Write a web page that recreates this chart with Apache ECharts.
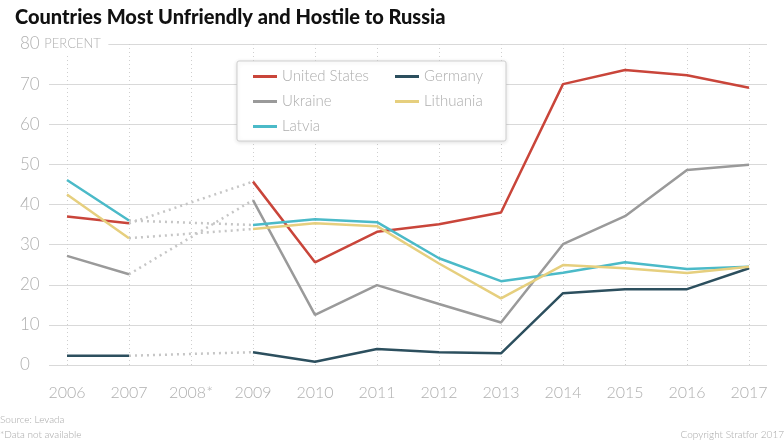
<!DOCTYPE html>
<html><head><meta charset="utf-8">
<script src="https://cdn.jsdelivr.net/npm/echarts@6/dist/echarts.min.js"></script>
<style>html,body{margin:0;padding:0;background:#fff}#c{width:784px;height:443px}</style>
</head><body><div id="c"></div>
<script>
const years = [2006,2007,2008,2009,2010,2011,2012,2013,2014,2015,2016,2017];
const yearLabels = ['2006','2007','2008*','2009','2010','2011','2012','2013','2014','2015','2016','2017'];
const unitedStates = [37.0,35.3,null,45.7,25.6,33.2,35.1,38.0,70.0,73.5,72.2,69.1];
const ukraine      = [27.2,22.6,null,41.1,12.5,19.9,15.2,10.6,30.1,37.1,48.6,49.9];
const latvia       = [46.1,36.0,null,34.9,36.3,35.6,26.6,20.9,23.0,25.6,23.9,24.5];
const germany      = [2.3,2.3,null,3.2,0.8,4.0,3.2,2.9,17.9,18.9,18.9,24.1];
const lithuania    = [42.5,31.6,null,33.9,35.3,34.6,25.3,16.6,24.9,24.1,22.9,24.5];
const yTicks = [0,10,20,30,40,50,60,70,80];

const countries = [
  {name:'United States', data:unitedStates, color:'#c9453a'},
  {name:'Ukraine', data:ukraine, color:'#9a9a9a'},
  {name:'Latvia', data:latvia, color:'#4bbac8'},
  {name:'Germany', data:germany, color:'#2c4f5e'},
  {name:'Lithuania', data:lithuania, color:'#e6cf7e'}
];
const font = 'Lato, "Open Sans", sans-serif';
const series = [];
// dotted connectors across missing 2008
countries.forEach(c => {
  const i7 = years.indexOf(2007), i9 = years.indexOf(2009);
  series.push({
    name: c.name + ' (n/a)', type:'line', symbol:'none', silent:true, z:1,
    lineStyle:{color:'#c6c6c6', width:2.5, type:[2,4]},
    data:[[years[i7], c.data[i7]],[years[i9], c.data[i9]]]
  });
});
countries.forEach(c => {
  series.push({
    name:c.name, type:'line', symbol:'none', connectNulls:false, z:3,
    color:c.color, lineStyle:{color:c.color, width:2.5},
    emphasis:{disabled:true},
    data: years.map((y,i)=>[y, c.data[i]])
  });
});

const chart = echarts.init(document.getElementById('c'));
chart.setOption({
  animation:false,
  backgroundColor:'#fff',
  title:{text:'Countries Most Unfriendly and Hostile to Russia', left:10, top:3,
    textStyle:{fontFamily:font, fontWeight:900, fontSize:20, color:'#111'}},
  grid:{left:49, right:17, top:44, bottom:78},
  legend:{
    data:[{name:'United States'},{name:'Germany', textStyle:{width:66}},{name:'Ukraine'},{name:'Lithuania', textStyle:{width:66}},{name:'Latvia'}],
    left:237, top:61, width:245, orient:'horizontal',
    icon:'rect', itemWidth:24, itemHeight:3, itemGap:10,
    backgroundColor:'#fff', borderColor:'#cfcfcf', borderWidth:1, borderRadius:2,
    shadowColor:'rgba(0,0,0,0.12)', shadowBlur:4, shadowOffsetY:1,
    padding:[8,16,7,16],
    textStyle:{fontFamily:font, fontWeight:300, fontSize:15, color:'#adadad', width:103, lineHeight:15}
  },
  xAxis:{
    type:'value', min:2005.71, max:2017.29,
    axisLine:{show:false},
    axisTick:{show:false, customValues:years},
    axisLabel:{customValues:years, margin:20, fontFamily:font, fontWeight:300, fontSize:16, color:'#b0b0b0',
      formatter:v => yearLabels[years.indexOf(v)]},
    splitLine:{show:true, lineStyle:{color:'#cfcfcf', type:[1,3], width:1}}
  },
  yAxis:{
    type:'value', min:0, max:80, interval:10,
    axisLine:{show:false}, axisTick:{show:false},
    axisLabel:{align:'left', margin:29, fontFamily:font, fontWeight:300, fontSize:17, color:'#b0b0b0',
      formatter:v => v===80 ? '80{p| PERCENT }' : String(v),
      rich:{p:{fontFamily:font, fontWeight:300, fontSize:13, color:'#b0b0b0', backgroundColor:'#fff', padding:[3,4,3,1]}}},
    splitLine:{lineStyle:{color:'#d9d9d9', width:1}}
  },
  graphic:[
    {type:'text', left:0, top:415, style:{text:'Source: Levada', fontFamily:font, fontWeight:300, fontSize:10, fill:'#a8a8a8'}},
    {type:'text', left:0, top:430, style:{text:'*Data not available', fontFamily:font, fontWeight:300, fontSize:10, fill:'#a8a8a8'}},
    {type:'text', right:0, top:430, style:{text:'Copyright Stratfor 2017', fontFamily:font, fontWeight:300, fontSize:10, fill:'#a8a8a8'}}
  ],
  series
});
</script></body></html>
